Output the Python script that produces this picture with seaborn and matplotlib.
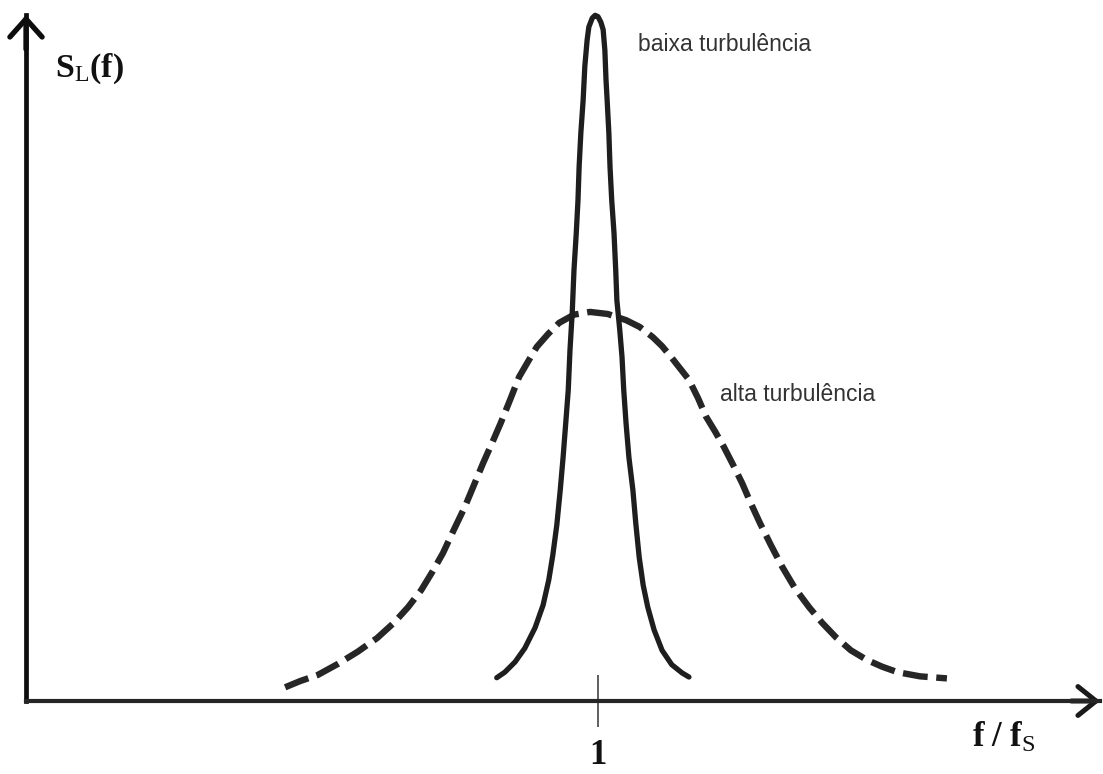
import matplotlib
matplotlib.use("Agg")
import matplotlib.pyplot as plt
import seaborn as sns

# ---- data ----
solid_x = [0.823, 0.837, 0.855, 0.872, 0.890, 0.904, 0.914, 0.921, 0.928, 0.934,
           0.939, 0.944, 0.948, 0.951, 0.955, 0.958, 0.962, 0.965, 0.967, 0.970,
           0.974, 0.977, 0.981, 0.984, 0.990, 0.995,
           1.000, 1.005, 1.009, 1.012, 1.014, 1.016, 1.019, 1.021, 1.024, 1.028,
           1.031, 1.033, 1.038, 1.042, 1.045, 1.049, 1.054, 1.061, 1.066, 1.072,
           1.079, 1.087, 1.098, 1.112, 1.129, 1.147, 1.159]
solid_y = [0.034, 0.042, 0.057, 0.077, 0.107, 0.140, 0.177, 0.213, 0.257, 0.308,
           0.356, 0.410, 0.454, 0.512, 0.568, 0.629, 0.683, 0.731, 0.780, 0.829,
           0.877, 0.927, 0.965, 0.984, 0.997, 1.001,
           0.999, 0.991, 0.980, 0.950, 0.907, 0.877, 0.829, 0.780, 0.731, 0.683,
           0.629, 0.585, 0.542, 0.502, 0.454, 0.406, 0.356, 0.308, 0.260, 0.210,
           0.169, 0.137, 0.104, 0.074, 0.053, 0.041, 0.035]

dashed_x = [0.453, 0.479, 0.510, 0.545, 0.580, 0.614, 0.643, 0.668, 0.691, 0.710,
            0.729, 0.748, 0.767, 0.783, 0.799, 0.815, 0.830, 0.846, 0.862, 0.878,
            0.893, 0.913, 0.932, 0.958, 0.986, 1.017, 1.049, 1.073, 1.096, 1.112,
            1.128, 1.143, 1.159, 1.175, 1.189, 1.205, 1.220, 1.236, 1.252, 1.267,
            1.283, 1.302, 1.322, 1.344, 1.369, 1.392, 1.416, 1.442, 1.470, 1.497,
            1.524, 1.563, 1.610]
dashed_y = [0.020, 0.029, 0.038, 0.054, 0.072, 0.092, 0.114, 0.137, 0.162, 0.188,
            0.216, 0.250, 0.283, 0.315, 0.347, 0.377, 0.406, 0.439, 0.473, 0.496,
            0.517, 0.536, 0.552, 0.564, 0.568, 0.565, 0.556, 0.546, 0.531, 0.518,
            0.502, 0.486, 0.469, 0.442, 0.415, 0.393, 0.371, 0.345, 0.318, 0.289,
            0.260, 0.228, 0.196, 0.165, 0.137, 0.114, 0.093, 0.074, 0.060, 0.050,
            0.042, 0.036, 0.033]

tick_values = [1]
tick_labels = ["1"]
label_low = "baixa turbulência"
label_high = "alta turbulência"

# ---- style ----
sns.set_theme(style="white")
plt.rcParams["font.family"] = ["Liberation Sans", "DejaVu Sans"]
plt.rcParams["mathtext.fontset"] = "custom"
plt.rcParams["mathtext.rm"] = "Liberation Serif"
plt.rcParams["mathtext.bf"] = "Liberation Serif:bold"
plt.rcParams["mathtext.it"] = "Liberation Serif:italic"

W, H = 1103, 774
fig = plt.figure(figsize=(W / 100, H / 100), dpi=100)
fig.patch.set_facecolor("white")
ax = fig.add_axes([0, 0, 1, 1])
ax.set_facecolor("white")

# pixel layout -> data limits
px_x0, px_per_x = 26, 572.0
px_y0, px_per_y = 701, 685.0
ax.set_xlim(-px_x0 / px_per_x, (W - px_x0) / px_per_x)
ax.set_ylim((px_y0 - H) / px_per_y, px_y0 / px_per_y)

x_tip = (1100 - px_x0) / px_per_x
y_tip = (px_y0 - 15) / px_per_y

# curves
sns.lineplot(x=dashed_x, y=dashed_y, ax=ax, color="#262626", lw=4.6,
             estimator=None, sort=False)
dline = ax.lines[-1]
dline.set_dashes([3.9, 1.35])
dline.set_dash_capstyle("butt")
dline.set_dash_joinstyle("round")

sns.lineplot(x=solid_x, y=solid_y, ax=ax, color="#1e1e1e", lw=3.8,
             estimator=None, sort=False)
sline = ax.lines[-1]
sline.set_solid_capstyle("round")
sline.set_solid_joinstyle("round")

# axes as spines
for s in ["top", "right"]:
    ax.spines[s].set_visible(False)
ax.spines["left"].set_position(("data", 0))
ax.spines["bottom"].set_position(("data", 0))
ax.spines["left"].set_bounds(0, y_tip)
ax.spines["bottom"].set_bounds(0, x_tip)
ax.spines["left"].set_linewidth(3.4)
ax.spines["bottom"].set_linewidth(3.0)
ax.spines["left"].set_color("#0d0d0d")
ax.spines["bottom"].set_color("#262626")
ax.spines["left"].set_zorder(5)
ax.spines["bottom"].set_zorder(5)

# arrow heads (open chevrons)
ax.annotate("", xy=(x_tip, 0), xytext=(x_tip - 0.05, 0),
            arrowprops=dict(arrowstyle="->,head_length=0.65,head_width=0.52",
                            lw=3.6, color="#1a1a1a", mutation_scale=20,
                            shrinkA=0, shrinkB=0, joinstyle="miter"))
ax.annotate("", xy=(0, y_tip), xytext=(0, y_tip - 0.05),
            arrowprops=dict(arrowstyle="->,head_length=0.65,head_width=0.58",
                            lw=3.8, color="#0d0d0d", mutation_scale=20,
                            shrinkA=0, shrinkB=0, joinstyle="miter"))

# tick at f/fs = 1
ax.set_xticks(tick_values)
ax.set_xticklabels(tick_labels)
ax.set_yticks([])
ax.tick_params(axis="x", direction="inout", length=38, width=1.2,
               color="#444444", pad=8, labelsize=25, bottom=True)
for t in ax.get_xticklabels():
    t.set_fontfamily("Liberation Serif")
    t.set_fontweight("bold")
    t.set_color("#111111")
ax.grid(False)

# axis labels
fig.text(55 / W, 1 - 77 / H, r"$\mathbf{S}_{\mathrm{L}}\mathbf{(f)}$",
         fontsize=24.5, ha="left", va="baseline", color="#111111")
fig.text(972 / W, 1 - 747 / H, r"$\mathbf{f\ /\ f}_{\mathrm{S}}$",
         fontsize=25, ha="left", va="baseline", color="#111111")

# curve labels
fig.text(638 / W, 1 - 51 / H, label_low, fontsize=16.5, ha="left",
         va="baseline", color="#333333", family=["Liberation Sans", "DejaVu Sans"])
fig.text(720 / W, 1 - 401 / H, label_high, fontsize=16.5, ha="left",
         va="baseline", color="#333333", family=["Liberation Sans", "DejaVu Sans"])

fig.savefig("out.png", dpi=100, facecolor="white")
